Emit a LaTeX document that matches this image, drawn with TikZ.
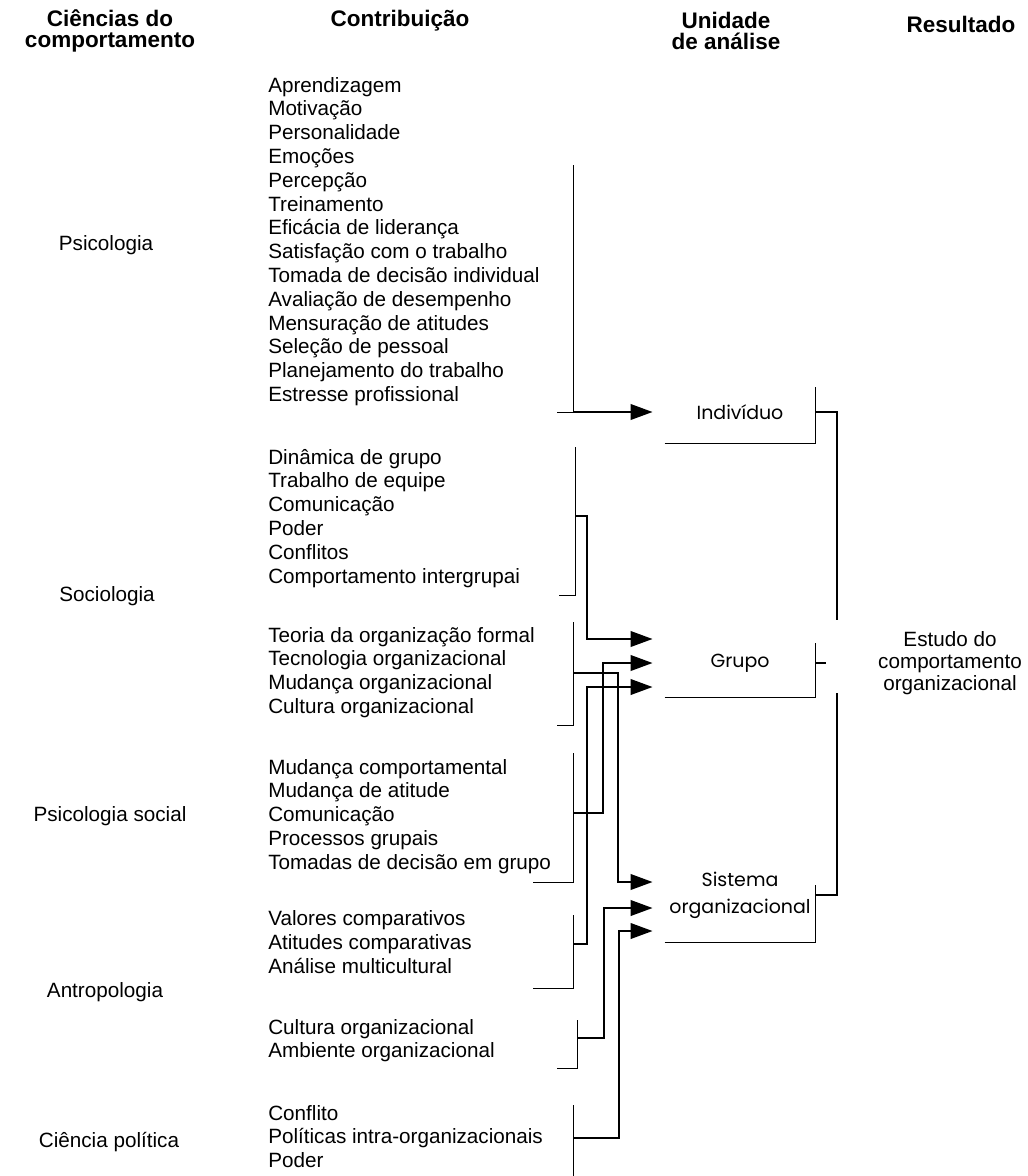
\documentclass[tikz,border=0pt]{standalone}
\usepackage{fontspec}
\setmainfont{Liberation Sans}
\newfontfamily\unitfont{Poppins}
\usepackage{tikz}
\usetikzlibrary{arrows.meta}

\tikzset{
  head/.style={align=center, inner sep=0pt, font=\fontsize{16}{15}\selectfont\bfseries},
  science/.style={anchor=base, inner sep=0pt, font=\fontsize{14.7}{17}\selectfont},
  item/.style={anchor=base west, inner sep=0pt, font=\fontsize{14.7}{17}\selectfont},
  unit/.style={minimum width=3.75cm, inner sep=0pt, align=center, font=\unitfont\fontsize{13.5}{19}\selectfont},
  bracket/.style={line width=0.5pt},
  frame/.style={line width=0.6pt},
  feed/.style={line width=2.1pt, shorten >=0.3cm, -{Triangle[length=5.5mm,width=3.8mm]}},
  link/.style={line width=1.5pt}
}

\begin{document}
\begin{tikzpicture}[x=0.025cm,y=-0.025cm]
  \useasboundingbox (0,0) rectangle (1027,1176);

  % column heads
  \node[head] (h-sci) at (110,31) {Ciências do\\comportamento};
  \node[head] (h-con) at (400,21) {Contribuição};
  \node[head] (h-uni) at (726,31) {Unidade\\de análise};
  \node[head] (h-res) at (961,24) {Resultado};

  % sciences
  \node[science] (psi) at (106,250) {Psicologia};
  \node[science] (soc) at (107,601) {Sociologia};
  \node[science] (spsy) at (110,821) {Psicologia social};
  \node[science] (ant) at (105,997) {Antropologia};
  \node[science] (pol) at (109,1147) {Ciência política};

  % contributions
  \foreach \t [count=\i] in {Aprendizagem, Motivação, Personalidade, Emoções,
      Percepção, Treinamento, Eficácia de liderança, Satisfação com o trabalho,
      Tomada de decisão individual, Avaliação de desempenho,
      Mensuração de atitudes, Seleção de pessoal, Planejamento do trabalho,
      Estresse profissional}
    \node[item] (psi-\i) at (268,{92+23.8*(\i-1)}) {\t};
  \foreach \t [count=\i] in {Dinâmica de grupo, Trabalho de equipe, Comunicação,
      Poder, Conflitos, Comportamento intergrupai}
    \node[item] (soc1-\i) at (268,{464+23.8*(\i-1)}) {\t};
  \foreach \t [count=\i] in {Teoria da organização formal,
      Tecnologia organizacional, Mudança organizacional, Cultura organizacional}
    \node[item] (soc2-\i) at (268,{642+23.8*(\i-1)}) {\t};
  \foreach \t [count=\i] in {Mudança comportamental, Mudança de atitude,
      Comunicação, Processos grupais, Tomadas de decisão em grupo}
    \node[item] (spsy-\i) at (268,{774+23.8*(\i-1)}) {\t};
  \foreach \t [count=\i] in {Valores comparativos, Atitudes comparativas,
      Análise multicultural}
    \node[item] (ant1-\i) at (268,{925+24.2*(\i-1)}) {\t};
  \foreach \t [count=\i] in {Cultura organizacional, Ambiente organizacional}
    \node[item] (ant2-\i) at (268,{1034+23.8*(\i-1)}) {\t};
  \foreach \t [count=\i] in {Conflito, Políticas intra-organizacionais, Poder}
    \node[item] (pol-\i) at (268,{1120+23.8*(\i-1)}) {\t};

  % brackets: name/x/top/bottom/foot
  \foreach \n/\x/\t/\b/\f in {psi/573/165/412/16, soc1/575/447/595/16,
      soc2/573/622/725/16, spsy/573/753/882/40, ant1/573/915/988/40,
      ant2/577/1020/1068/20, pol/573/1105/1176/0}
    \draw[bracket] ({\x-\f},\b) -- (\x,\b) -- (\x,\t);

  \coordinate (psi-tap) at (573,412);
  \coordinate (soc1-tap) at (575,516);
  \coordinate (soc2-tap) at (573,673);
  \coordinate (spsy-tap) at (573,813);
  \coordinate (ant1-tap) at (573,944);
  \coordinate (ant2-tap) at (577,1038);
  \coordinate (pol-tap) at (573,1138);

  % units of analysis
  \node[unit, minimum height=1.55cm] (ind) at (740,412) {Indivíduo};
  \node[unit, minimum height=1.7cm] (grp) at (740,663) {Grupo};
  \node[unit, minimum height=2.35cm] (sis) at (740,895) {Sistema\\organizacional};

  \draw[frame] (ind.south west) -- (ind.south east) -- ++(0,-56);
  \draw[frame] (grp.south west) -- (grp.south east) -- ++(0,-54);
  \draw[frame] (sis.south west) -- (sis.south east) -- ++(0,-57);

  \draw[feed] (psi-tap) -- (ind.west);
  \draw[feed] (soc1-tap) -- ++(12,0) |- ([yshift=0.6cm]grp.west);
  \draw[feed] (spsy-tap) -- ++(30,0) |- (grp.west);
  \draw[feed] (ant1-tap) -- ++(14,0) |- ([yshift=-0.6cm]grp.west);
  \draw[feed] (soc2-tap) -- ++(45,0) |- ([yshift=0.325cm]sis.west);
  \draw[feed] (ant2-tap) -- ++(27,0) |- ([yshift=-0.325cm]sis.west);
  \draw[feed] (pol-tap) -- ++(46,0) |- ([yshift=-0.9cm]sis.west);

  % result
  \node[align=center, inner sep=0pt, font=\fontsize{14.7}{15.6}\selectfont]
    (res) at (950,663) {Estudo do\\comportamento\\organizacional};
  \coordinate (res-top) at (837,620);
  \coordinate (res-bot) at (837,693);

  \draw[link] (ind.east) -| (res-top);
  \draw[link] (sis.east) -| (res-bot);
  \draw[link] (grp.east) -- ++(11,0);
\end{tikzpicture}
\end{document}
